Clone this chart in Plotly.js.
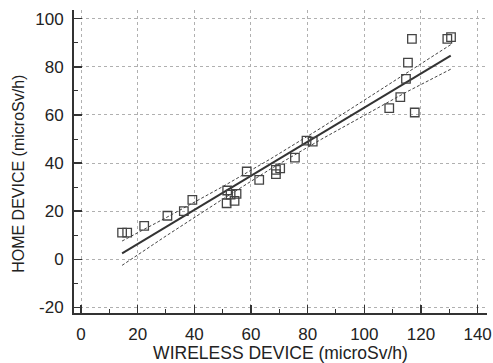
<!DOCTYPE html>
<html>
<head>
<meta charset="utf-8">
<script src="https://cdn.plot.ly/plotly-3.0.1.min.js"></script>
<style>html,body{margin:0;padding:0;background:#fff;}#chart{width:493px;height:363px;}</style>
</head>
<body>
<div id="chart"></div>
<script>
// Measured points: wireless device (x) vs home device (y), microSv/h
var wirelessX = [14.5, 16.3, 22.3, 30.5, 36.3, 39.3, 51.6, 51.4, 52.8, 54.2, 54.9, 58.5, 62.9, 68.8, 68.8, 70.3, 75.5, 79.6, 81.8, 108.8, 112.7, 114.7, 115.4, 116.8, 117.8, 129.3, 130.6];
var homeY     = [11.1, 11.1, 13.9, 18.1, 20.0, 24.7, 28.6, 23.3, 26.9, 24.3, 27.2, 36.5, 33.0, 35.4, 37.2, 37.8, 42.3, 49.3, 48.9, 62.8, 67.4, 75.0, 81.7, 91.6, 61.0, 91.6, 92.3];

// Regression line and confidence band
var fitX   = [14.5, 30, 50, 67, 85, 100, 115, 130.5];
var fitY   = [2.5, 13.5, 27.6, 39.7, 52.4, 63.0, 73.6, 84.6];
var upperY = [7.6, 17.3, 30.2, 41.8, 54.8, 66.1, 77.6, 89.2];
var lowerY = [-2.5, 9.7, 25.0, 37.6, 50.0, 59.9, 69.6, 79.0];

var xTicks = [0, 20, 40, 60, 80, 100, 120, 140];
var yTicks = [-20, 0, 20, 40, 60, 80, 100];

var xTitle = 'WIRELESS DEVICE (microSv/h)';
var yTitle = 'HOME DEVICE (microSv/h)';

var FONT = 'Liberation Sans, Arial, sans-serif';

var traces = [
  {x: fitX, y: upperY, mode: 'lines', line: {color: '#444', width: 1, dash: '3px,2px'}, hoverinfo: 'skip', showlegend: false},
  {x: fitX, y: lowerY, mode: 'lines', line: {color: '#444', width: 1, dash: '3px,2px'}, hoverinfo: 'skip', showlegend: false},
  {x: fitX, y: fitY, mode: 'lines', line: {color: '#333', width: 2}, hoverinfo: 'skip', showlegend: false},
  {x: wirelessX, y: homeY, mode: 'markers', showlegend: false,
   marker: {symbol: 'square-open', size: 8.5, color: '#444', line: {width: 1.3, color: '#444'}}}
];

var axisCommon = {
  showline: true, linecolor: '#333', linewidth: 2, mirror: false,
  zeroline: false,
  showgrid: true, gridcolor: '#b0b0b0', gridwidth: 1, griddash: 'dot',
  ticks: 'inside', ticklen: 8, tickwidth: 1.5, tickcolor: '#333',
  tickfont: {family: FONT, size: 17, color: '#222'},
  fixedrange: true
};

var layout = {
  width: 493, height: 363,
  margin: {l: 74, r: 6, t: 10, b: 50},
  paper_bgcolor: '#fff', plot_bgcolor: '#fff',
  font: {family: FONT, color: '#222'},
  xaxis: Object.assign({}, axisCommon, {
    range: [-2.47, 143.3], tickmode: 'array', tickvals: xTicks, ticktext: xTicks.map(String),
    ticklabelstandoff: 5,
    minor: {dtick: 10, ticklen: 4, ticks: 'inside', tickcolor: '#333', tickwidth: 1, showgrid: false},
    title: {text: xTitle, font: {family: FONT, size: 17.5, color: '#222'}, standoff: 1}
  }),
  yaxis: Object.assign({}, axisCommon, {
    range: [-22.3, 103.6], tickmode: 'array', tickvals: yTicks, ticktext: yTicks.map(String),
    ticklabelstandoff: 5,
    minor: {dtick: 10, ticklen: 4, ticks: 'inside', tickcolor: '#333', tickwidth: 1, showgrid: false}
  }),
  annotations: [{
    text: yTitle, xref: 'paper', yref: 'paper', x: -0.135, y: 0.46,
    xanchor: 'center', yanchor: 'middle', textangle: -90, showarrow: false,
    font: {family: FONT, size: 16, color: '#222'}
  }]
};

Plotly.newPlot('chart', traces, layout, {displayModeBar: false, staticPlot: true});
</script>
</body>
</html>
